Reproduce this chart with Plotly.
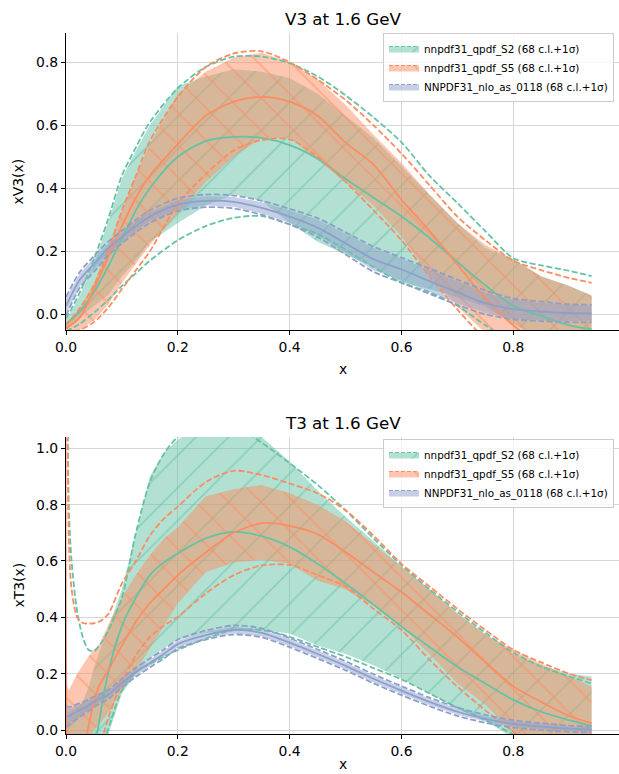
import plotly.graph_objects as go

# ---------------- data: V3 at 1.6 GeV ----------------
X_V3 = [0.0, 0.025, 0.05, 0.075, 0.1, 0.125, 0.15, 0.2, 0.25, 0.3, 0.35, 0.4, 0.45,
        0.5, 0.55, 0.6, 0.65, 0.7, 0.75, 0.8, 0.85, 0.9, 0.94]

V3_S2_CV   = [-0.03, 0.01, 0.07, 0.15, 0.24, 0.33, 0.40, 0.50, 0.55, 0.563, 0.56, 0.537, 0.494,
              0.43, 0.37, 0.311, 0.242, 0.166, 0.092, 0.026, -0.006, -0.035, -0.047]
V3_S2_HI68 = [-0.02, 0.06, 0.16, 0.29, 0.43, 0.52, 0.60, 0.725, 0.755, 0.778, 0.77, 0.75, 0.70,
              0.63, 0.56, 0.47, 0.38, 0.29, 0.21, 0.175, 0.121, 0.09, 0.06]
V3_S2_LO68 = [-0.05, -0.01, 0.026, 0.06, 0.12, 0.17, 0.23, 0.29, 0.345, 0.38, 0.36, 0.29, 0.23,
              0.19, 0.15, 0.10, 0.08, 0.055, 0.025, -0.03, -0.08, -0.12, -0.15]
V3_S2_HISD = [-0.015, 0.07, 0.175, 0.30, 0.44, 0.53, 0.61, 0.718, 0.785, 0.818, 0.818, 0.797, 0.755,
              0.695, 0.625, 0.546, 0.44, 0.353, 0.264, 0.178, 0.155, 0.138, 0.121]
V3_S2_LOSD = [-0.055, -0.03, 0.005, 0.045, 0.09, 0.13, 0.17, 0.235, 0.28, 0.306, 0.312, 0.285, 0.255,
              0.205, 0.15, 0.10, 0.07, 0.027, -0.035, -0.09, -0.15, -0.2, -0.25]

V3_S5_CV   = [-0.045, -0.01, 0.08, 0.18, 0.28, 0.37, 0.44, 0.54, 0.63, 0.675, 0.69, 0.675, 0.63,
              0.545, 0.475, 0.364, 0.265, 0.157, 0.05, -0.035, -0.1, -0.15, -0.18]
V3_S5_HI68 = [-0.03, 0.02, 0.10, 0.21, 0.33, 0.44, 0.54, 0.70, 0.77, 0.815, 0.83, 0.80, 0.745,
              0.665, 0.57, 0.48, 0.38, 0.29, 0.22, 0.174, 0.12, 0.09, 0.058]
V3_S5_LO68 = [-0.05, -0.05, -0.02, 0.03, 0.10, 0.16, 0.22, 0.32, 0.42, 0.50, 0.56, 0.56, 0.49,
              0.42, 0.345, 0.248, 0.123, 0.025, -0.06, -0.15, -0.2, -0.25, -0.3]
V3_S5_HISD = [-0.035, 0.02, 0.09, 0.20, 0.33, 0.44, 0.55, 0.69, 0.785, 0.828, 0.835, 0.80, 0.745,
              0.68, 0.60, 0.51, 0.41, 0.31, 0.235, 0.17, 0.14, 0.115, 0.10]
V3_S5_LOSD = [-0.06, -0.05, -0.025, 0.02, 0.08, 0.14, 0.20, 0.35, 0.445, 0.52, 0.553, 0.555, 0.50,
              0.42, 0.33, 0.235, 0.12, 0.015, -0.08, -0.16, -0.22, -0.27, -0.3]

V3_NLO_CV   = [0.026, 0.11, 0.16, 0.21, 0.245, 0.28, 0.31, 0.348, 0.36, 0.357, 0.338, 0.31, 0.275,
               0.225, 0.175, 0.142, 0.105, 0.07, 0.035, 0.016, 0.008, 0.004, 0.003]
V3_NLO_HI68 = [0.05, 0.13, 0.18, 0.225, 0.26, 0.295, 0.325, 0.363, 0.375, 0.372, 0.356, 0.33, 0.30,
               0.255, 0.21, 0.177, 0.14, 0.105, 0.068, 0.046, 0.036, 0.03, 0.028]
V3_NLO_LO68 = [0.0, 0.09, 0.14, 0.19, 0.228, 0.265, 0.295, 0.333, 0.345, 0.341, 0.32, 0.29, 0.25,
               0.195, 0.14, 0.107, 0.07, 0.035, 0.005, -0.014, -0.02, -0.022, -0.022]
V3_NLO_HISD = [0.055, 0.135, 0.185, 0.23, 0.265, 0.30, 0.33, 0.368, 0.38, 0.377, 0.36, 0.335, 0.305,
               0.26, 0.215, 0.18, 0.145, 0.11, 0.075, 0.05, 0.04, 0.032, 0.03]
V3_NLO_LOSD = [-0.005, 0.085, 0.135, 0.185, 0.225, 0.26, 0.29, 0.328, 0.34, 0.336, 0.316, 0.285, 0.245,
               0.19, 0.135, 0.10, 0.065, 0.03, 0.0, -0.016, -0.022, -0.025, -0.026]

# ---------------- data: T3 at 1.6 GeV ----------------
X_T3 = [0.0, 0.005, 0.01, 0.02, 0.03, 0.04, 0.05, 0.06, 0.075, 0.1, 0.125, 0.15, 0.175, 0.2,
        0.25, 0.3, 0.35, 0.4, 0.45, 0.5, 0.55, 0.6, 0.65, 0.7, 0.75, 0.8, 0.85, 0.9, 0.94]

T3_S2_CV   = [-0.5, -0.5, -0.45, -0.4, -0.3, -0.2, -0.08, 0.04, 0.2, 0.37, 0.47, 0.55, 0.595, 0.627,
              0.68, 0.703, 0.688, 0.65, 0.59, 0.52, 0.445, 0.367, 0.295, 0.225, 0.165, 0.107, 0.065, 0.035, 0.014]
T3_S2_HI68 = [0.06, 0.06, 0.07, 0.08, 0.10, 0.15, 0.22, 0.28, 0.36, 0.50, 0.70, 0.90, 0.985, 1.03,
              1.1, 1.12, 1.04, 0.953, 0.85, 0.757, 0.67, 0.58, 0.50, 0.414, 0.34, 0.27, 0.23, 0.20, 0.19]
T3_S2_LO68 = [-0.5, -0.5, -0.5, -0.5, -0.5, -0.4, -0.3, -0.1, -0.02, 0.13, 0.20, 0.255, 0.29, 0.32,
              0.345, 0.355, 0.355, 0.343, 0.30, 0.27, 0.23, 0.183, 0.13, 0.075, 0.035, -0.03, -0.08, -0.12, -0.15]
T3_S2_HISD = [3.0, 0.8, 0.6, 0.42, 0.33, 0.285, 0.28, 0.30, 0.35, 0.47, 0.70, 0.88, 0.98, 1.04,
              1.09, 1.08, 1.02, 0.947, 0.87, 0.78, 0.68, 0.585, 0.50, 0.42, 0.345, 0.275, 0.225, 0.19, 0.165]
T3_S2_LOSD = [-1.0, -1.0, -0.9, -0.8, -0.6, -0.4, -0.25, -0.1, 0.0, 0.14, 0.205, 0.235, 0.26, 0.284,
              0.325, 0.355, 0.355, 0.331, 0.295, 0.26, 0.22, 0.18, 0.13, 0.08, 0.035, -0.015, -0.07, -0.12, -0.15]

T3_S5_CV   = [2.0, -0.3, -0.35, -0.25, -0.1, 0.01, 0.1, 0.16, 0.21, 0.30, 0.385, 0.45, 0.50, 0.55,
              0.63, 0.70, 0.734, 0.725, 0.695, 0.632, 0.56, 0.49, 0.41, 0.33, 0.24, 0.155, 0.10, 0.05, 0.025]
T3_S5_HI68 = [0.17, 0.14, 0.16, 0.20, 0.23, 0.26, 0.285, 0.305, 0.37, 0.47, 0.55, 0.62, 0.68, 0.72,
              0.83, 0.855, 0.87, 0.84, 0.80, 0.74, 0.66, 0.58, 0.50, 0.414, 0.34, 0.284, 0.235, 0.19, 0.155]
T3_S5_LO68 = [-0.05, -0.05, -0.05, -0.05, -0.05, -0.05, 0.0, 0.02, 0.06, 0.14, 0.21, 0.29, 0.37, 0.45,
              0.56, 0.595, 0.604, 0.59, 0.53, 0.50, 0.44, 0.367, 0.27, 0.166, 0.09, -0.01, -0.08, -0.12, -0.15]
T3_S5_HISD = [3.0, 0.68, 0.5, 0.4, 0.38, 0.378, 0.379, 0.385, 0.41, 0.52, 0.60, 0.69, 0.75, 0.793,
              0.88, 0.92, 0.905, 0.875, 0.84, 0.78, 0.69, 0.59, 0.51, 0.43, 0.355, 0.285, 0.24, 0.20, 0.177]
T3_S5_LOSD = [-1.0, -1.0, -0.9, -0.8, -0.6, -0.4, -0.25, -0.08, 0.04, 0.17, 0.265, 0.33, 0.37, 0.402,
              0.485, 0.55, 0.584, 0.586, 0.55, 0.509, 0.43, 0.355, 0.25, 0.154, 0.07, -0.006, -0.07, -0.12, -0.16]

T3_NLO_CV   = [0.047, 0.05, 0.055, 0.066, 0.076, 0.088, 0.10, 0.11, 0.125, 0.167, 0.205, 0.238, 0.27, 0.305,
               0.337, 0.355, 0.345, 0.31, 0.27, 0.228, 0.182, 0.14, 0.10, 0.065, 0.04, 0.022, 0.012, 0.005, 0.002]
T3_NLO_HI68 = [0.08, 0.078, 0.08, 0.088, 0.095, 0.105, 0.115, 0.123, 0.137, 0.179, 0.217, 0.25, 0.282, 0.317,
               0.349, 0.367, 0.357, 0.322, 0.282, 0.24, 0.194, 0.152, 0.111, 0.076, 0.05, 0.032, 0.021, 0.013, 0.01]
T3_NLO_LO68 = [0.014, 0.022, 0.03, 0.044, 0.057, 0.071, 0.085, 0.097, 0.113, 0.155, 0.193, 0.226, 0.258, 0.293,
               0.325, 0.343, 0.333, 0.298, 0.258, 0.216, 0.17, 0.128, 0.089, 0.054, 0.03, 0.012, 0.003, -0.003, -0.006]
T3_NLO_HISD = [0.085, 0.082, 0.084, 0.092, 0.099, 0.109, 0.119, 0.127, 0.141, 0.183, 0.221, 0.254, 0.286, 0.321,
               0.353, 0.371, 0.361, 0.326, 0.286, 0.244, 0.198, 0.156, 0.115, 0.08, 0.054, 0.035, 0.024, 0.016, 0.012]
T3_NLO_LOSD = [0.01, 0.018, 0.026, 0.04, 0.053, 0.067, 0.081, 0.093, 0.109, 0.151, 0.189, 0.222, 0.254, 0.289,
               0.321, 0.339, 0.329, 0.294, 0.254, 0.212, 0.166, 0.124, 0.085, 0.05, 0.026, 0.009, 0.0, -0.006, -0.009]

NAMES = ["nnpdf31_qpdf_S2 (68 c.l.+1σ)", "nnpdf31_qpdf_S5 (68 c.l.+1σ)", "NNPDF31_nlo_as_0118 (68 c.l.+1σ)"]
COLORS = ["102,194,165", "252,141,98", "141,160,203"]
HATCH = ["/", "\\", ""]

TICKS = [0.0, 0.2, 0.4, 0.6, 0.8]
TICKS_Y_V3 = [0.0, 0.2, 0.4, 0.6, 0.8]
TICKS_Y_T3 = [0.0, 0.2, 0.4, 0.6, 0.8, 1.0]

FONT = "DejaVu Sans"
W, H = 619, 774
DASH = "6px,2.6px"
LW = 1.8

fig = go.Figure()


def pattern(i):
    c = COLORS[i]
    if HATCH[i]:
        return dict(shape=HATCH[i], size=23, solidity=0.07, fillmode="overlay",
                    bgcolor=f"rgba({c},0.5)", fgcolor=f"rgb({c})", fgopacity=0.55)
    return None


def add_band(i, x, lo, hi, xa, ya):
    c = COLORS[i]
    fill = f"rgba({c},0.5)"
    fig.add_trace(go.Scatter(x=x, y=hi, mode="lines", line=dict(width=0, color=fill),
                             showlegend=False, hoverinfo="skip", xaxis=xa, yaxis=ya))
    kw = {}
    p = pattern(i)
    if p:
        kw["fillpattern"] = p
    fig.add_trace(go.Scatter(x=x, y=lo, mode="lines", line=dict(width=0, color=fill),
                             fill="tonexty", fillcolor=fill, showlegend=False,
                             hoverinfo="skip", xaxis=xa, yaxis=ya, **kw))


def add_lines(i, x, cv, sdlo, sdhi, xa, ya):
    c = COLORS[i]
    for s in (sdhi, sdlo):
        fig.add_trace(go.Scatter(x=x, y=s, mode="lines",
                                 line=dict(color=f"rgb({c})", width=LW, dash=DASH,
                                           shape="spline", smoothing=0.8),
                                 showlegend=False, hoverinfo="skip", xaxis=xa, yaxis=ya))
    fig.add_trace(go.Scatter(x=x, y=cv, mode="lines",
                             line=dict(color=f"rgb({c})", width=LW, shape="spline", smoothing=0.8),
                             showlegend=False, hoverinfo="skip", xaxis=xa, yaxis=ya))


panels = [
    ("x", "y", X_V3,
     [(V3_S2_CV, V3_S2_LO68, V3_S2_HI68, V3_S2_LOSD, V3_S2_HISD),
      (V3_S5_CV, V3_S5_LO68, V3_S5_HI68, V3_S5_LOSD, V3_S5_HISD),
      (V3_NLO_CV, V3_NLO_LO68, V3_NLO_HI68, V3_NLO_LOSD, V3_NLO_HISD)], "legend"),
    ("x2", "y2", X_T3,
     [(T3_S2_CV, T3_S2_LO68, T3_S2_HI68, T3_S2_LOSD, T3_S2_HISD),
      (T3_S5_CV, T3_S5_LO68, T3_S5_HI68, T3_S5_LOSD, T3_S5_HISD),
      (T3_NLO_CV, T3_NLO_LO68, T3_NLO_HI68, T3_NLO_LOSD, T3_NLO_HISD)], "legend2"),
]

for xa, ya, xs, sets, lg in panels:
    for i, (cv, lo, hi, sdlo, sdhi) in enumerate(sets):
        add_band(i, xs, lo, hi, xa, ya)
    for i, (cv, lo, hi, sdlo, sdhi) in enumerate(sets):
        add_lines(i, xs, cv, sdlo, sdhi, xa, ya)
    # legend entries
    for i in range(3):
        c = COLORS[i]
        kw = {}
        p = pattern(i)
        if p:
            kw["fillpattern"] = p
        fig.add_trace(go.Scatter(x=[None], y=[None], mode="lines", name=NAMES[i],
                                 fill="toself", fillcolor=f"rgba({c},0.5)",
                                 line=dict(color=f"rgb({c})", width=1.2, dash="4px,2px"),
                                 legend=lg, xaxis=xa, yaxis=ya, **kw))

x_dom = [66 / W, 1.0]
top_dom = [1 - 330 / H, 1 - 33 / H]
bot_dom = [1 - 734 / H, 1 - 437 / H]

axis_common = dict(showline=True, linecolor="black", linewidth=1.1, ticks="outside",
                   ticklen=4, tickwidth=1.1, tickcolor="black", showgrid=True,
                   gridcolor="#d6d6d6", gridwidth=1, zeroline=False, automargin=False,
                   tickfont=dict(family=FONT, size=13.9, color="black"), mirror=False)

legend_common = dict(x=614 / W, xanchor="right", yanchor="top", traceorder="normal",
                     bgcolor="rgba(255,255,255,0.8)", bordercolor="#cccccc", borderwidth=1,
                     font=dict(family=FONT, size=10.4, color="black"), tracegroupgap=0,
                     itemwidth=30)

fig.update_layout(
    width=W, height=H, template="none",
    margin=dict(l=0, r=0, t=0, b=0),
    paper_bgcolor="white", plot_bgcolor="white",
    font=dict(family=FONT, color="black"),
    xaxis=dict(domain=x_dom, range=[0, 0.989], anchor="y", tickvals=TICKS,
               ticktext=[f"{t:.1f}" for t in TICKS], **axis_common),
    yaxis=dict(domain=top_dom, range=[-0.05, 0.893], anchor="x", tickvals=TICKS_Y_V3,
               ticktext=[f"{t:.1f}" for t in TICKS_Y_V3], **axis_common),
    xaxis2=dict(domain=x_dom, range=[0, 0.989], anchor="y2", tickvals=TICKS,
                ticktext=[f"{t:.1f}" for t in TICKS], **axis_common),
    yaxis2=dict(domain=bot_dom, range=[-0.014, 1.04], anchor="x2", tickvals=TICKS_Y_T3,
                ticktext=[f"{t:.1f}" for t in TICKS_Y_T3], **axis_common),
    legend=dict(y=1 - 33 / H, **legend_common),
    legend2=dict(y=1 - 439 / H, **legend_common),
)

cx = (66 + 619) / 2 / W
ann = [
    dict(text="V3 at 1.6 GeV", x=cx, y=1 - 19 / H, size=16.7, angle=0),
    dict(text="T3 at 1.6 GeV", x=cx, y=1 - 423 / H, size=16.7, angle=0),
    dict(text="xV3(x)", x=18 / W, y=1 - 181.5 / H, size=13.9, angle=-90),
    dict(text="xT3(x)", x=18 / W, y=1 - 585.5 / H, size=13.9, angle=-90),
    dict(text="x", x=cx, y=1 - 369 / H, size=13.9, angle=0),
    dict(text="x", x=cx, y=1 - 764 / H, size=13.9, angle=0),
]
for a in ann:
    fig.add_annotation(text=a["text"], x=a["x"], y=a["y"], xref="paper", yref="paper",
                       xanchor="center", yanchor="middle", showarrow=False,
                       textangle=a["angle"], font=dict(family=FONT, size=a["size"], color="black"))

fig.write_html("out.html", config={"displayModeBar": False},
               post_script="document.body.style.margin='0';document.body.style.padding='0';")
